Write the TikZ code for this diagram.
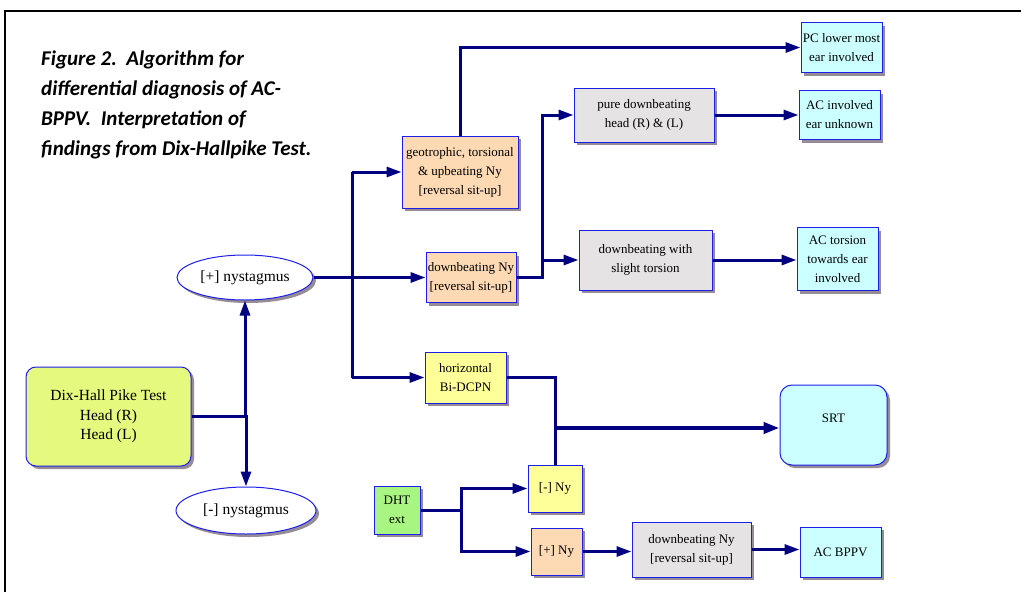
\documentclass[tikz,border=0pt]{standalone}
\usepackage{fontspec}
\setmainfont{Liberation Serif}
\newfontfamily\titlefont{Carlito}
\usetikzlibrary{arrows.meta,shapes.geometric,shadows,calc}
\definecolor{navy}{RGB}{0,0,128}
\definecolor{bordc}{RGB}{30,30,235}
\definecolor{shadc}{RGB}{150,140,150}
\definecolor{yg}{RGB}{228,249,125}
\definecolor{peach}{RGB}{253,217,180}
\definecolor{lyel}{RGB}{255,255,153}
\definecolor{lgrey}{RGB}{229,227,227}
\definecolor{lcyan}{RGB}{204,255,255}
\definecolor{lgreen}{RGB}{168,245,130}
\tikzset{
  box/.style={rectangle, draw=bordc, line width=1pt, inner sep=0pt, align=center,
    font=\fontsize{13}{19}\selectfont,
    drop shadow={shadow xshift=3pt, shadow yshift=-3pt, fill=shadc, opacity=1}},
  oval/.style={box, ellipse, font=\fontsize{15.5}{19}\selectfont},
  conn/.style={draw=navy, line width=3pt},
  arr/.style={conn, -{Triangle[length=15pt,width=10pt]}},
}
\begin{document}
\begin{tikzpicture}[x=1pt,y=-1pt]
\useasboundingbox (0,0) rectangle (1021,592);
\draw[line width=1.5pt] (5,600) -- (5,11) -- (1030,11);
\node[anchor=base west, inner sep=0pt, align=left, font=\titlefont\bfseries\itshape\fontsize{21}{30}\selectfont]
  (title) at (41,155) {Figure 2.\ \ Algorithm for\\differential diagnosis of AC-\\BPPV.\ \ Interpretation of\\findings from Dix-Hallpike Test.};
% nodes
\node[box, rounded corners=10pt, fill=yg, minimum width=165pt, minimum height=99pt, font=\fontsize{15.5}{19.5}\selectfont] (dix) at (108.5,416.5) {Dix-Hall Pike Test\\Head (R)\\Head (L)};
\node[oval, fill=white, minimum width=136pt, minimum height=45pt] (plus) at (245,277.5) {[+] nystagmus};
\node[oval, fill=white, minimum width=140pt, minimum height=47pt] (minus) at (246,510.5) {[-] nystagmus};
\node[box, fill=lgreen, minimum width=46pt, minimum height=48pt] (dht) at (397,510) {DHT\\ext};
\node[box, fill=peach, minimum width=116pt, minimum height=72pt] (geo) at (460,172) {geotrophic, torsional\\\& upbeating Ny\\{[}reversal sit-up{]}};
\node[box, fill=peach, minimum width=90pt, minimum height=50pt] (dbn) at (471,277.5) {downbeating Ny\\{[}reversal sit-up{]}};
\node[box, fill=lyel, minimum width=81pt, minimum height=51pt] (hor) at (465.5,377.5) {horizontal\\Bi-DCPN};
\node[box, fill=lgrey, minimum width=140pt, minimum height=54pt] (pure) at (644,115) {pure downbeating\\head (R) \& (L)};
\node[box, fill=lgrey, minimum width=133pt, minimum height=60pt] (slight) at (645.5,260) {downbeating with\\slight torsion};
\node[box, fill=lcyan, minimum width=81pt, minimum height=50pt] (pc) at (841.5,47.5) {PC lower most\\ear involved};
\node[box, fill=lcyan, minimum width=81pt, minimum height=49pt] (acu) at (839.5,115) {AC involved\\ear unknown};
\node[box, fill=lcyan, minimum width=81pt, minimum height=63pt] (act) at (837.5,259) {AC torsion\\towards ear\\involved};
\node[box, rounded corners=12pt, fill=lcyan, minimum width=107pt, minimum height=80pt, text height=9pt, text depth=14pt] (srt) at (833.5,425) {SRT};
\node[box, fill=lyel, minimum width=54pt, minimum height=47pt] (negny) at (555,488.5) {[-] Ny};
\node[box, fill=peach, minimum width=51pt, minimum height=47pt] (posny) at (556.5,551.5) {[+] Ny};
\node[box, fill=lgrey, minimum width=119pt, minimum height=55pt] (dbn2) at (691.5,549.5) {downbeating Ny\\{[}reversal sit-up{]}};
\node[box, fill=lcyan, minimum width=81pt, minimum height=50pt] (acb) at (840.5,552) {AC BPPV};
% helper coordinates
\coordinate (v1) at (352,0);
\coordinate (v2) at (542,0);
\coordinate (v3) at (461,0);
\coordinate (j2) at (555.5,428);
% connectors
\draw[arr] (dix.east) -| (plus.south);
\draw[arr] (dix.east) -| (minus.north);
\draw[arr] (plus.east) -- (plus.east -| dbn.west);
\draw[conn] (geo.west -| v1) -- (hor.west -| v1);
\draw[arr] (geo.west -| v1) -- (geo.west);
\draw[arr] (hor.west -| v1) -- (hor.west);
\draw[arr] (geo.north) |- (pc.west);
\draw[arr] (dbn.east) -| (v2 |- pure.west) -- (pure.west);
\draw[arr] (v2 |- slight.west) -- (slight.west);
\draw[arr] (pure.east) -- (pure.east -| acu.west);
\draw[arr] (slight.east) -- (slight.east -| act.west);
\draw[conn] (hor.east) -| (negny.north);
\draw[draw=navy, line width=4pt, -{Triangle[length=16pt,width=11pt]}] (j2) -- (j2 -| srt.west);
\draw[conn] (dht.east) -- (dht.east -| v3);
\draw[arr] (dht.east -| v3) |- (negny.west);
\draw[arr] (dht.east -| v3) |- (posny.west);
\draw[arr] (posny.east) -- (posny.east -| dbn2.west);
\draw[arr] (dbn2.east) -- (dbn2.east -| acb.west);
\end{tikzpicture}
\end{document}
